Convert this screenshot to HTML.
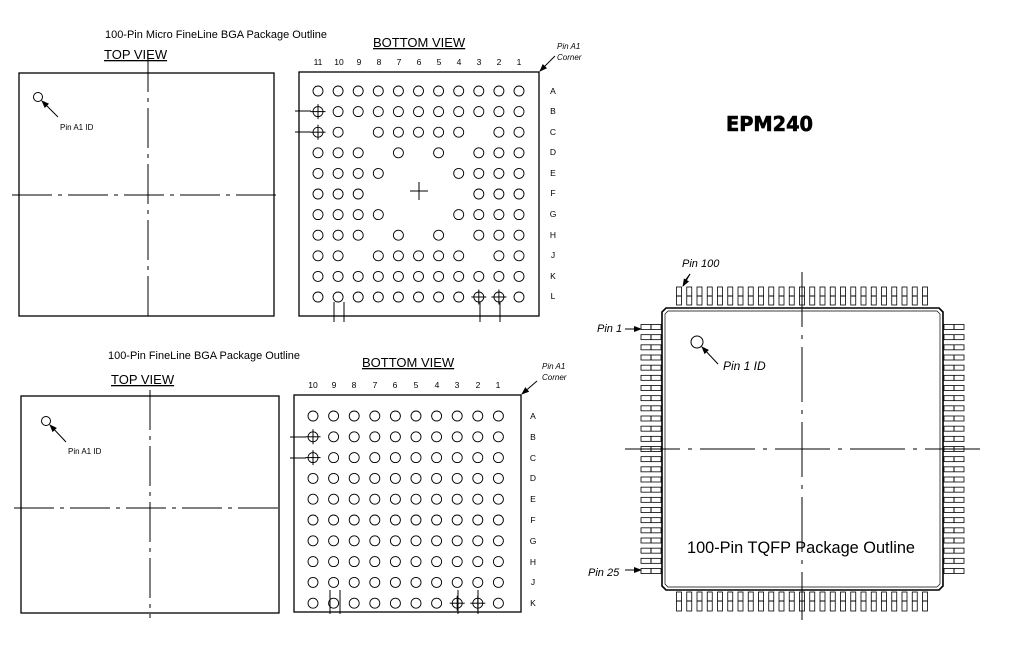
<!DOCTYPE html>
<html><head><meta charset="utf-8"><style>
html,body{margin:0;padding:0;background:#fff;}
svg{display:block;font-family:"Liberation Sans",sans-serif;}
</style></head><body>
<svg id="s" width="1010" height="652" viewBox="0 0 1010 652" xmlns="http://www.w3.org/2000/svg">
<defs><marker id="ar" markerWidth="8" markerHeight="6" refX="7" refY="3" orient="auto" markerUnits="userSpaceOnUse"><path d="M0,0 L8,3 L0,6z" fill="#000"/></marker></defs>
<g fill="#000">
<text x="105" y="38" font-size="11" textLength="222" lengthAdjust="spacingAndGlyphs">100-Pin Micro FineLine BGA Package Outline</text>
<text x="104" y="59" font-size="13" text-decoration="underline">TOP VIEW</text>
<text x="373" y="47" font-size="13" text-decoration="underline">BOTTOM VIEW</text>
<text x="557" y="49" font-size="8" font-style="italic">Pin A1</text>
<text x="557" y="60" font-size="8" font-style="italic">Corner</text>
<text x="60" y="130" font-size="8">Pin A1 ID</text>
<text x="108" y="359" font-size="11" textLength="192" lengthAdjust="spacingAndGlyphs">100-Pin FineLine BGA Package Outline</text>
<text x="111" y="384" font-size="13" text-decoration="underline">TOP VIEW</text>
<text x="362" y="367" font-size="13" text-decoration="underline">BOTTOM VIEW</text>
<text x="542" y="369" font-size="8" font-style="italic">Pin A1</text>
<text x="542" y="380" font-size="8" font-style="italic">Corner</text>
<text x="68" y="454" font-size="8">Pin A1 ID</text>
<text x="726" y="131" font-size="20" font-weight="bold" font-family="DejaVu Sans,sans-serif" textLength="87" lengthAdjust="spacingAndGlyphs" stroke="#000" stroke-width="0.6">EPM240</text>
<text x="682" y="267" font-size="11" font-style="italic">Pin 100</text>
<text x="597" y="332" font-size="11" font-style="italic">Pin 1</text>
<text x="723" y="370" font-size="12" font-style="italic">Pin 1 ID</text>
<text x="588" y="576" font-size="11" font-style="italic">Pin 25</text>
<text x="687" y="553" font-size="17" textLength="228" lengthAdjust="spacingAndGlyphs">100-Pin TQFP Package Outline</text>
</g>
<g font-size="8.5" fill="#000" text-anchor="middle">
<text x="318" y="65">11</text><text x="339" y="65">10</text><text x="359" y="65">9</text><text x="379" y="65">8</text><text x="399" y="65">7</text><text x="419" y="65">6</text><text x="439" y="65">5</text><text x="459" y="65">4</text><text x="479" y="65">3</text><text x="499" y="65">2</text><text x="519" y="65">1</text>
<text x="553" y="94">A</text><text x="553" y="114">B</text><text x="553" y="135">C</text><text x="553" y="155">D</text><text x="553" y="176">E</text><text x="553" y="196">F</text><text x="553" y="217">G</text><text x="553" y="238">H</text><text x="553" y="258">J</text><text x="553" y="279">K</text><text x="553" y="299">L</text>
<text x="313" y="388">10</text><text x="334" y="388">9</text><text x="354" y="388">8</text><text x="375" y="388">7</text><text x="395" y="388">6</text><text x="416" y="388">5</text><text x="437" y="388">4</text><text x="457" y="388">3</text><text x="478" y="388">2</text><text x="498" y="388">1</text>
<text x="533" y="419">A</text><text x="533" y="440">B</text><text x="533" y="461">C</text><text x="533" y="481">D</text><text x="533" y="502">E</text><text x="533" y="523">F</text><text x="533" y="544">G</text><text x="533" y="565">H</text><text x="533" y="585">J</text><text x="533" y="606">K</text>
</g>
<g id="g" fill="none" stroke="#000" stroke-width="1"></g>
</svg>
<script>
var g=document.getElementById('g'),NS='http://www.w3.org/2000/svg';
function el(t,a){var e=document.createElementNS(NS,t);for(var k in a)e.setAttribute(k,a[k]);g.appendChild(e);return e;}
function ln(x1,y1,x2,y2,d){var e=el('line',{x1:x1,y1:y1,x2:x2,y2:y2});if(d)e.setAttribute('stroke-dasharray',d);e.setAttribute('stroke-width',1);return e;}
function arr(x1,y1,x2,y2){var e=ln(x1,y1,x2,y2);e.setAttribute('marker-end','url(#ar)');return e;}
function rc(x,y,w,h,sw){el('rect',{x:x,y:y,width:w,height:h,'stroke-width':sw||1.3});}
function cross(x,y,r){ln(x-r,y,x+r,y);ln(x,y-r,x,y+r);}
var dd='40 6 4 6';
rc(19,73,255,243);ln(148,52,148,322,dd);ln(12,195,278,195,dd);
el('circle',{cx:38,cy:97,r:4.5});arr(58,117,42,101);
rc(21,396,258,217);ln(150,390,150,618,dd);ln(14,508,284,508,dd);
el('circle',{cx:46,cy:421,r:4.5});arr(66,442,50,425);
rc(299,72,240,244);
var miss={C:[9,3],D:[8,6,4],E:[7,6,5],F:[8,7,6,5,4],G:[7,6,5],H:[8,6,4],J:[9,3]};
var rows='ABCDEFGHJKL';
for(var r=0;r<11;r++){for(var c=0;c<11;c++){var col=11-c,x=318+c*20.1,y=91+r*20.6;
 var m=miss[rows[r]];if(m&&m.indexOf(col)>=0)continue;
 el('circle',{cx:x,cy:y,r:5,'stroke-width':0.9});
 if((col==11&&(r==1||r==2))||(r==10&&(col==3||col==2)))cross(x,y,7.5);}}
cross(419,191,9);
ln(295,111,311,111);ln(295,132,311,132);
[334,344,480,500].forEach(function(x){ln(x,302,x,322);});
arr(555,56,540,71);
rc(294,395,227,217);
for(var r=0;r<10;r++)for(var c=0;c<10;c++){var col=10-c,x=313+c*20.6,y=416+r*20.8;
 el('circle',{cx:x,cy:y,r:5,'stroke-width':0.9});
 if((col==10&&(r==1||r==2))||(r==9&&(col==3||col==2)))cross(x,y,7.5);}
ln(290,437,306,437);ln(290,458,306,458);
[330,340,458,478].forEach(function(x){ln(x,590,x,614);});
arr(537,381,522,394);
el('path',{d:'M666,308 L939,308 L943,312 L943,586 L939,590 L666,590 L662,586 L662,312 Z','stroke-width':1.6});
el('path',{d:'M668,311 L937,311 L940,314 L940,584 L937,587 L668,587 L665,584 L665,314 Z','stroke-width':0.7});
var p=(925-679)/24;
for(var i=0;i<25;i++){var x=679+i*p;
 rc(x-2.5,287,5,18,0.8);ln(x-2.5,296,x+2.5,296);
 rc(x-2.5,592,5,19,0.8);ln(x-2.5,601,x+2.5,601);
 var y=327+i*(571-327)/24;
 rc(641,y-2.5,20,5,0.8);ln(651,y-2.5,651,y+2.5);
 rc(944,y-2.5,20,5,0.8);ln(954,y-2.5,954,y+2.5);}
ln(802,272,802,620,'55 8 4 8');ln(625,449,980,449,'55 8 4 8');
el('circle',{cx:697,cy:342,r:6});arr(718,364,702,347);
arr(625,329,641,329);arr(625,570,641,570);arr(684,282,690,274).setAttribute('marker-end','');arr(690,274,683,286);
</script>
</body></html>
